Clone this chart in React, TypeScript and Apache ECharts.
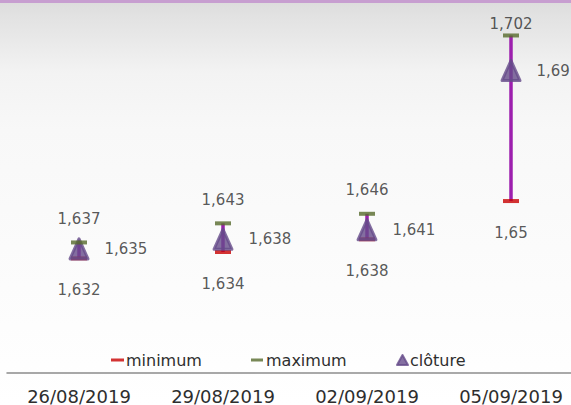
import React, { useEffect, useRef } from "react";
import * as echarts from "echarts";

const categories = ["26/08/2019", "29/08/2019", "02/09/2019", "05/09/2019"];
const minimum = [1.632, 1.634, 1.638, 1.65];
const maximum = [1.637, 1.643, 1.646, 1.702];
const cloture = [1.635, 1.638, 1.641, 1.691];

const yMin = 1.596;
const yMax = 1.71;

const fmt = (v: number) => String(v).replace(".", ",");
const FONT = "DejaVu Sans";
const TEXT = "#2e2e2e";

export default function App() {
  const ref = useRef<HTMLDivElement>(null);
  useEffect(() => {
    if (!ref.current) return;
    const chart = echarts.init(ref.current, undefined, { renderer: "svg" });
    chart.setOption({
      animation: false,
      backgroundColor: {
        type: "linear",
        x: 0,
        y: 0,
        x2: 0,
        y2: 1,
        colorStops: [
          { offset: 0, color: "#dcdcdc" },
          { offset: 0.04, color: "#e2e2e2" },
          { offset: 0.1, color: "#e9e9e9" },
          { offset: 0.18, color: "#f3f3f3" },
          { offset: 0.32, color: "#f8f8f8" },
          { offset: 1, color: "#ffffff" },
        ],
      },
      graphic: [
        {
          type: "rect",
          left: 0,
          top: 0,
          shape: { width: 571, height: 3 },
          style: { fill: "#c79ed0" },
          silent: true,
        },
      ],
      grid: { left: 7, width: 576, top: 10, height: 363, outerBoundsMode: "none", containLabel: false },
      xAxis: {
        type: "category",
        data: categories,
        boundaryGap: true,
        axisLine: { show: true, lineStyle: { color: "#8c8c8c", width: 1.5 } },
        axisTick: { show: false },
        axisLabel: { color: TEXT, fontFamily: FONT, fontSize: 18, margin: 14, interval: 0 },
        splitLine: { show: false },
      },
      yAxis: {
        type: "value",
        min: yMin,
        max: yMax,
        show: false,
        splitLine: { show: false },
      },
      legend: [
        {
          data: ["minimum"],
          left: 106,
          top: 347,
          itemWidth: 13,
          itemHeight: 3,
          icon: "rect",
          textStyle: { color: TEXT, fontFamily: FONT, fontSize: 16, padding: [0, 0, 0, -3] },
        },
        {
          data: ["maximum"],
          left: 246,
          top: 347,
          itemWidth: 12,
          itemHeight: 3,
          icon: "rect",
          textStyle: { color: TEXT, fontFamily: FONT, fontSize: 16, padding: [0, 0, 0, -2] },
        },
        {
          data: ["clôture"],
          left: 391,
          top: 347,
          itemWidth: 11,
          itemHeight: 10,
          icon: "triangle",
          textStyle: { color: TEXT, fontFamily: FONT, fontSize: 16, padding: [0, 0, 0, -3] },
        },
      ],
      series: [
        {
          name: "hilo",
          type: "custom",
          z: 1,
          silent: true,
          encode: { x: 0, y: [1, 2] },
          data: categories.map((c, i) => [i, minimum[i], maximum[i]]),
          renderItem: (params: any, api: any) => {
            const lo = api.coord([api.value(0), api.value(1)]);
            const hi = api.coord([api.value(0), api.value(2)]);
            return {
              type: "line",
              shape: { x1: lo[0], y1: lo[1], x2: hi[0], y2: hi[1] },
              style: { stroke: "#9d1fae", lineWidth: 3.5 },
            };
          },
        },
        {
          name: "minimum",
          type: "scatter",
          z: 2,
          symbol: "rect",
          symbolSize: [16, 4],
          itemStyle: { color: "#c80000" },
          data: minimum.map((v, i) => [i, v]),
          label: {
            show: true,
            position: "bottom",
            distance: 22,
            color: TEXT,
            fontFamily: FONT,
            fontSize: 15,
            formatter: (p: any) => fmt(p.value[1]),
          },
        },
        {
          name: "clôture",
          type: "scatter",
          z: 3,
          symbol: "triangle",
          symbolSize: [18, 20],
          itemStyle: { color: "#654b8a", borderColor: "#654b8a", borderWidth: 3, borderJoin: "round" },
          data: cloture.map((v, i) => [i, v]),
          label: {
            show: true,
            position: "right",
            distance: 15,
            color: TEXT,
            fontFamily: FONT,
            fontSize: 15,
            formatter: (p: any) => fmt(p.value[1]),
          },
        },
        {
          name: "maximum",
          type: "scatter",
          z: 4,
          symbol: "rect",
          symbolSize: [16, 4],
          itemStyle: { color: "#566a2c" },
          data: maximum.map((v, i) => ({
            value: [i, v],
            label: { distance: v > yMax - 0.012 ? 2 : 14 },
          })),
          label: {
            show: true,
            position: "top",
            distance: 14,
            color: TEXT,
            fontFamily: FONT,
            fontSize: 15,
            formatter: (p: any) => fmt(p.value[1]),
          },
        },
      ],
    });
    return () => chart.dispose();
  }, []);
  return (
    <div
      ref={ref}
      style={{ position: "fixed", left: 0, top: 0, width: 571, height: 405 }}
    />
  );
}
